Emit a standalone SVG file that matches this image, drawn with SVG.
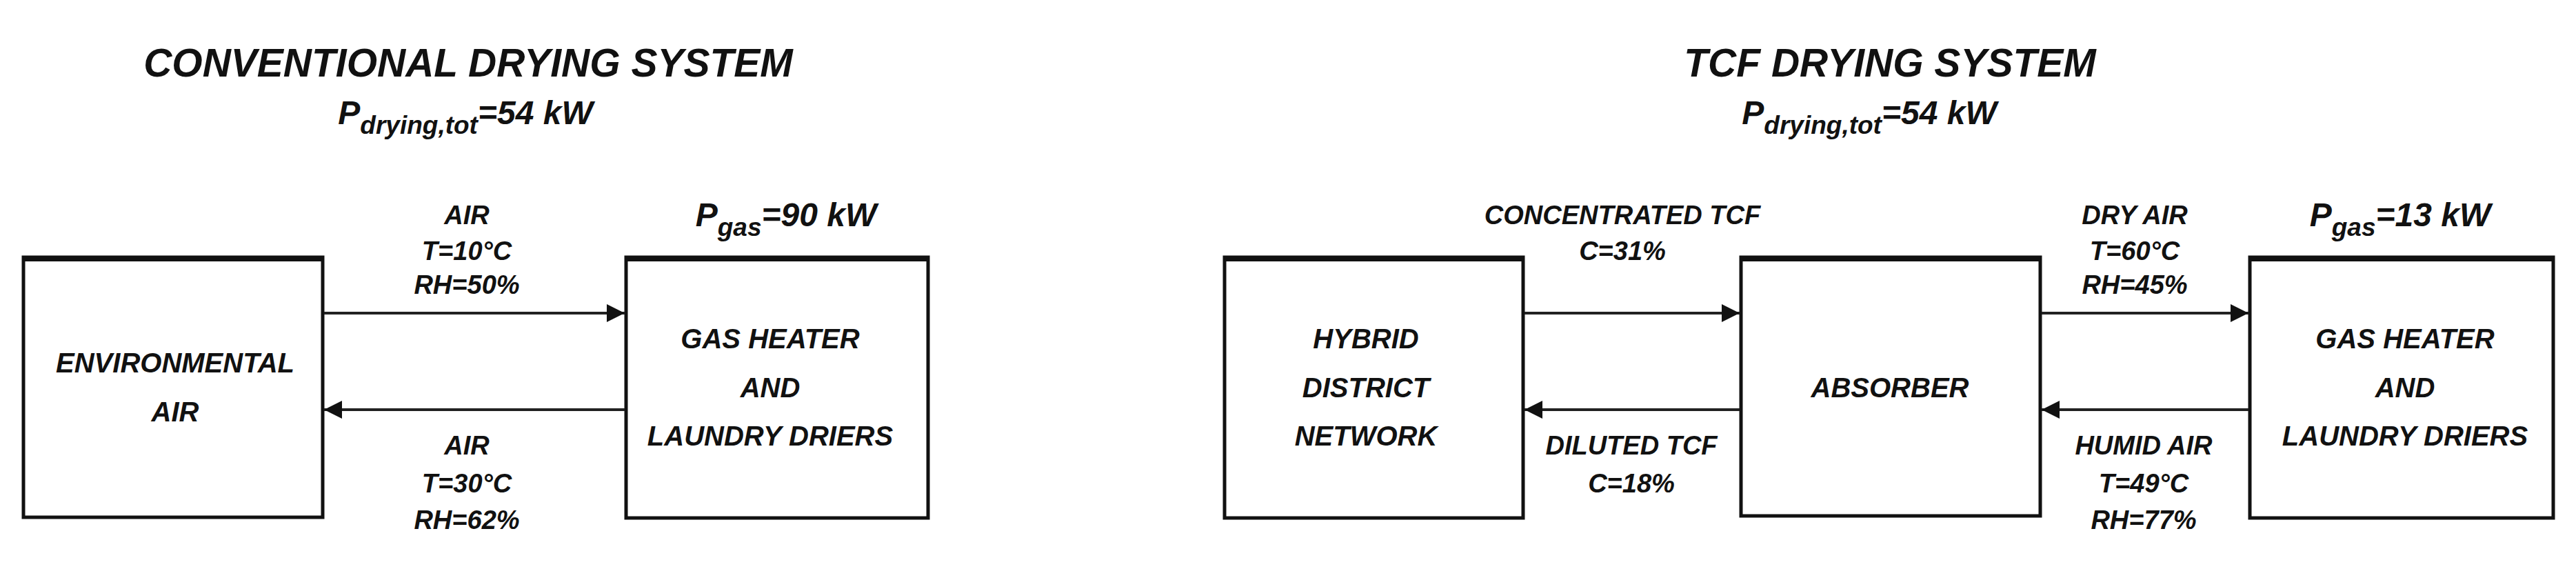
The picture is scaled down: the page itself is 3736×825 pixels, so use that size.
<svg xmlns="http://www.w3.org/2000/svg" width="3736" height="825" viewBox="0 0 3736 825">
<style>
text{font-family:"Liberation Sans",Arial,sans-serif;font-weight:bold;font-style:italic;fill:#111;text-anchor:middle}
.t{font-size:57px}
.p{font-size:48px}
.s{font-size:37px}
.l{font-size:38px}
.n{font-size:40px}
rect{fill:#fff;stroke:#111;stroke-width:5}
.top{stroke:#111;stroke-width:8}
line.c{stroke:#222;stroke-width:4}
</style>
<defs>
<marker id="ah" viewBox="0 0 10 10" refX="10" refY="5" markerWidth="28" markerHeight="26" markerUnits="userSpaceOnUse" orient="auto"><path d="M0,0L10,5L0,10z" fill="#111"/></marker>
</defs>
<g id="titles">
<text class="t" x="679" y="111">CONVENTIONAL DRYING SYSTEM</text>
<text class="p" x="675" y="180">P<tspan class="s" dy="14">drying,tot</tspan><tspan dy="-14">=54 kW</tspan></text>
<text class="t" x="2741" y="111">TCF DRYING SYSTEM</text>
<text class="p" x="2711" y="180">P<tspan class="s" dy="14">drying,tot</tspan><tspan dy="-14">=54 kW</tspan></text>
<text class="p" x="1140" y="328">P<tspan class="s" dy="14">gas</tspan><tspan dy="-14">=90 kW</tspan></text>
<text class="p" x="3481" y="328">P<tspan class="s" dy="14">gas</tspan><tspan dy="-14">=13 kW</tspan></text>
</g>
<g id="env">
<rect x="34" y="373" width="434" height="377"/><line class="top" x1="32" y1="375" x2="470" y2="375"/>
<text class="n" x="254" y="540">ENVIRONMENTAL</text><text class="n" x="254" y="611">AIR</text>
</g>
<g id="gas1">
<rect x="908" y="373" width="438" height="378"/><line class="top" x1="906" y1="375" x2="1348" y2="375"/>
<text class="n" x="1117" y="505">GAS HEATER</text><text class="n" x="1117" y="576">AND</text><text class="n" x="1117" y="646">LAUNDRY DRIERS</text>
</g>
<g id="hybrid">
<rect x="1776" y="373" width="433" height="378"/><line class="top" x1="1774" y1="375" x2="2211" y2="375"/>
<text class="n" x="1981" y="505">HYBRID</text><text class="n" x="1981" y="576">DISTRICT</text><text class="n" x="1981" y="646">NETWORK</text>
</g>
<g id="absorber">
<rect x="2525" y="373" width="434" height="375"/><line class="top" x1="2523" y1="375" x2="2961" y2="375"/>
<text class="n" x="2741" y="576">ABSORBER</text>
</g>
<g id="gas2">
<rect x="3263" y="373" width="440" height="378"/><line class="top" x1="3261" y1="375" x2="3705" y2="375"/>
<text class="n" x="3488" y="505">GAS HEATER</text><text class="n" x="3488" y="576">AND</text><text class="n" x="3488" y="646">LAUNDRY DRIERS</text>
</g>
<g id="connectors">
<line class="c" x1="470" y1="454" x2="906" y2="454" marker-end="url(#ah)"/>
<line class="c" x1="906" y1="594" x2="470" y2="594" marker-end="url(#ah)"/>
<line class="c" x1="2211" y1="454" x2="2523" y2="454" marker-end="url(#ah)"/>
<line class="c" x1="2523" y1="594" x2="2211" y2="594" marker-end="url(#ah)"/>
<line class="c" x1="2961" y1="454" x2="3261" y2="454" marker-end="url(#ah)"/>
<line class="c" x1="3261" y1="594" x2="2961" y2="594" marker-end="url(#ah)"/>
<text class="l" x="677" y="325">AIR</text><text class="l" x="677" y="377">T=10°C</text><text class="l" x="677" y="426">RH=50%</text>
<text class="l" x="677" y="659">AIR</text><text class="l" x="677" y="714">T=30°C</text><text class="l" x="677" y="767">RH=62%</text>
<text class="l" x="2353" y="325">CONCENTRATED TCF</text><text class="l" x="2353" y="377">C=31%</text>
<text class="l" x="2366" y="659">DILUTED TCF</text><text class="l" x="2366" y="714">C=18%</text>
<text class="l" x="3096" y="325">DRY AIR</text><text class="l" x="3096" y="377">T=60°C</text><text class="l" x="3096" y="426">RH=45%</text>
<text class="l" x="3109" y="659">HUMID AIR</text><text class="l" x="3109" y="714">T=49°C</text><text class="l" x="3109" y="767">RH=77%</text>
</g>
</svg>
